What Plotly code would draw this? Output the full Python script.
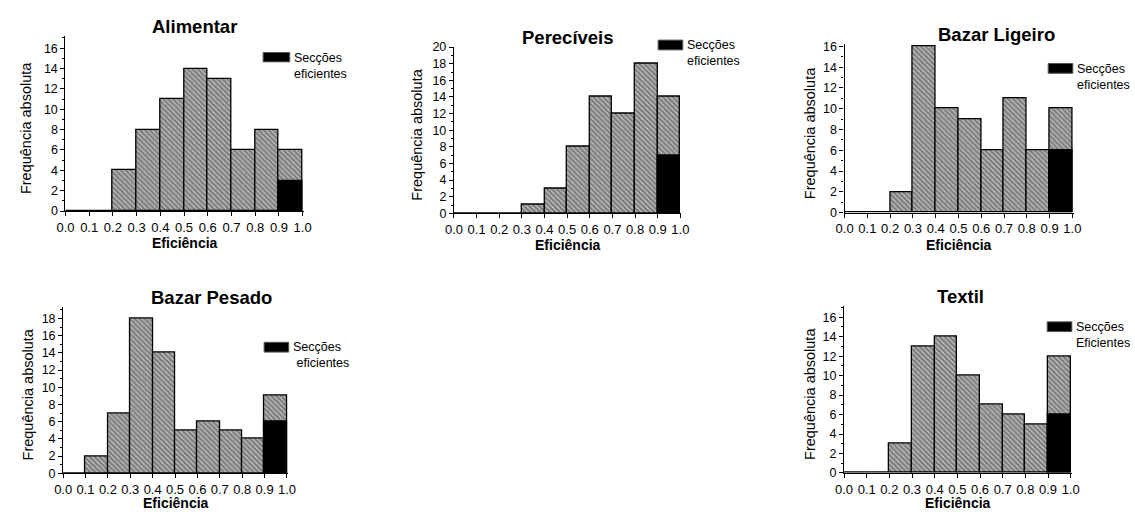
import plotly.graph_objects as go

# Efficiency bins (lower edge of each 0.1 class)
bin_starts = [0.0, 0.1, 0.2, 0.3, 0.4, 0.5, 0.6, 0.7, 0.8, 0.9]
bin_width = 0.1

titles = ["Alimentar", "Perecíveis", "Bazar Ligeiro", "Bazar Pesado", "Textil"]

# Absolute frequency per class
alimentar = [0, 0, 4, 8, 11, 14, 13, 6, 8, 6]
pereciveis = [0, 0, 0, 1, 3, 8, 14, 12, 18, 14]
bazar_ligeiro = [0, 0, 2, 16, 10, 9, 6, 11, 6, 10]
bazar_pesado = [0, 2, 7, 18, 14, 5, 6, 5, 4, 9]
textil = [0, 0, 3, 13, 14, 10, 7, 6, 5, 12]

# Efficient sections (all in the 0.9-1.0 class)
eficientes = [3, 7, 6, 6, 6]

legend_labels = [
    "Secções<br>eficientes",
    "Secções<br>eficientes",
    "Secções<br>eficientes",
    "Secções<br> eficientes",
    "Secções<br>Eficientes",
]

x_ticks = [0.0, 0.1, 0.2, 0.3, 0.4, 0.5, 0.6, 0.7, 0.8, 0.9, 1.0]
x_tick_text = ["0.0", "0.1", "0.2", "0.3", "0.4", "0.5", "0.6", "0.7", "0.8", "0.9", "1.0"]

series = [alimentar, pereciveis, bazar_ligeiro, bazar_pesado, textil]

W, H = 1135, 516

# Panel geometry in pixels: x0, x1 (axis extent), y_bottom, y_top, y max value
panels = [
    dict(x0=57.3, x1=299.3, yb=210.3, yt=30.7, ymax=17.2, title_xy=(188, 21),
         leg=(258, 285, 47.7, 57.3), ytitle_x=18, xtitle_y=243),
    dict(x0=451.7, x1=682.7, yb=212.7, yt=41.7, ymax=20.05, title_xy=(568, 32),
         leg=(659, 684, 35, 45), ytitle_x=414, xtitle_y=245),
    dict(x0=848.3, x1=1080.7, yb=212.0, yt=39.3, ymax=16.2, title_xy=(1003, 29),
         leg=(1055, 1080, 59, 69), ytitle_x=814, xtitle_y=245),
    dict(x0=55.0, x1=283.3, yb=479.3, yt=308.3, ymax=19.4, title_xy=(206, 299),
         leg=(259, 284, 345, 355), ytitle_x=19, xtitle_y=510),
    dict(x0=847.7, x1=1079.0, yb=479.0, yt=307.3, ymax=17.2, title_xy=(966, 298),
         leg=(1054, 1079, 324, 334), ytitle_x=813, xtitle_y=510),
]


def px(x):
    return x / W


def py(y):
    return 1 - y / H


FONT = "Arial, Liberation Sans, Helvetica, sans-serif"

fig = go.Figure()
centers = [b + bin_width / 2 for b in bin_starts]

shapes = []
annotations = []
layout_axes = {}

for i, (vals, p) in enumerate(zip(series, panels)):
    n = i + 1
    xa = "x" if n == 1 else f"x{n}"
    ya = "y" if n == 1 else f"y{n}"

    fig.add_trace(go.Bar(
        x=centers, y=vals, width=bin_width, xaxis=xa, yaxis=ya,
        marker=dict(
            color="white",
            line=dict(color="black", width=1.3),
            pattern=dict(shape="\\", fgcolor="#000000", bgcolor="white",
                         size=3.5, solidity=0.85),
        ),
        showlegend=False, hoverinfo="x+y",
    ))
    fig.add_trace(go.Bar(
        x=[centers[-1]], y=[eficientes[i]], width=bin_width, xaxis=xa, yaxis=ya,
        marker=dict(color="black", line=dict(color="black", width=1.3)),
        showlegend=False, hoverinfo="x+y",
    ))

    kx = "xaxis" if n == 1 else f"xaxis{n}"
    ky = "yaxis" if n == 1 else f"yaxis{n}"
    layout_axes[kx] = dict(
        domain=[px(p["x0"]), px(p["x1"])], anchor=ya, range=[0, 1.005],
        tickvals=x_ticks, ticktext=x_tick_text, ticks="outside", ticklen=4,
        tickwidth=1, tickcolor="black", showline=True, linecolor="black",
        linewidth=1.2, showgrid=False, zeroline=False,
        tickfont=dict(family=FONT, size=13, color="black"),
    )
    layout_axes[ky] = dict(
        domain=[py(p["yb"]), py(p["yt"])], anchor=xa, range=[0, p["ymax"]],
        dtick=2, ticks="outside", ticklen=4, tickwidth=1, tickcolor="black",
        minor=dict(dtick=1, ticks="outside", ticklen=2, tickcolor="black"),
        showline=True, linecolor="black", linewidth=1.2, showgrid=False,
        zeroline=False, tickfont=dict(family=FONT, size=12.5, color="black"),
    )

    # Panel title
    annotations.append(dict(
        text=f"<b>{titles[i]}</b>", xref="paper", yref="paper",
        x=px(p["title_xy"][0]), y=py(p["title_xy"][1]), xanchor="center",
        yanchor="middle", showarrow=False,
        font=dict(family=FONT, size=18.5, color="black"),
    ))
    # Axis titles
    annotations.append(dict(
        text="Frequência absoluta", xref="paper", yref="paper",
        x=px(p["ytitle_x"]), y=py((p["yb"] + p["yt"]) / 2 + 5),
        xanchor="center", yanchor="middle", textangle=-90, showarrow=False,
        font=dict(family=FONT, size=14.5, color="black"),
    ))
    annotations.append(dict(
        text="<b>Eficiência</b>", xref="paper", yref="paper",
        x=px((p["x0"] + p["x1"]) / 2), y=py(p["xtitle_y"]),
        xanchor="center", yanchor="middle", showarrow=False,
        font=dict(family=FONT, size=14, color="black"),
    ))
    # Legend key
    lx0, lx1, ly0, ly1 = p["leg"]
    shapes.append(dict(
        type="rect", xref="paper", yref="paper",
        x0=px(lx0), x1=px(lx1), y0=py(ly1), y1=py(ly0),
        fillcolor="black", line=dict(color="#555555", width=1),
    ))
    annotations.append(dict(
        text=legend_labels[i], xref="paper", yref="paper",
        x=px(lx1 + 2), y=py(ly0 - 4), xanchor="left", yanchor="top",
        align="left", showarrow=False,
        font=dict(family=FONT, size=12.5, color="black"),
    ))

fig.update_layout(
    width=W, height=H, margin=dict(l=0, r=0, t=0, b=0),
    paper_bgcolor="white", plot_bgcolor="white", barmode="overlay",
    bargap=0, shapes=shapes, annotations=annotations, **layout_axes,
)

fig.write_html("out.html")
